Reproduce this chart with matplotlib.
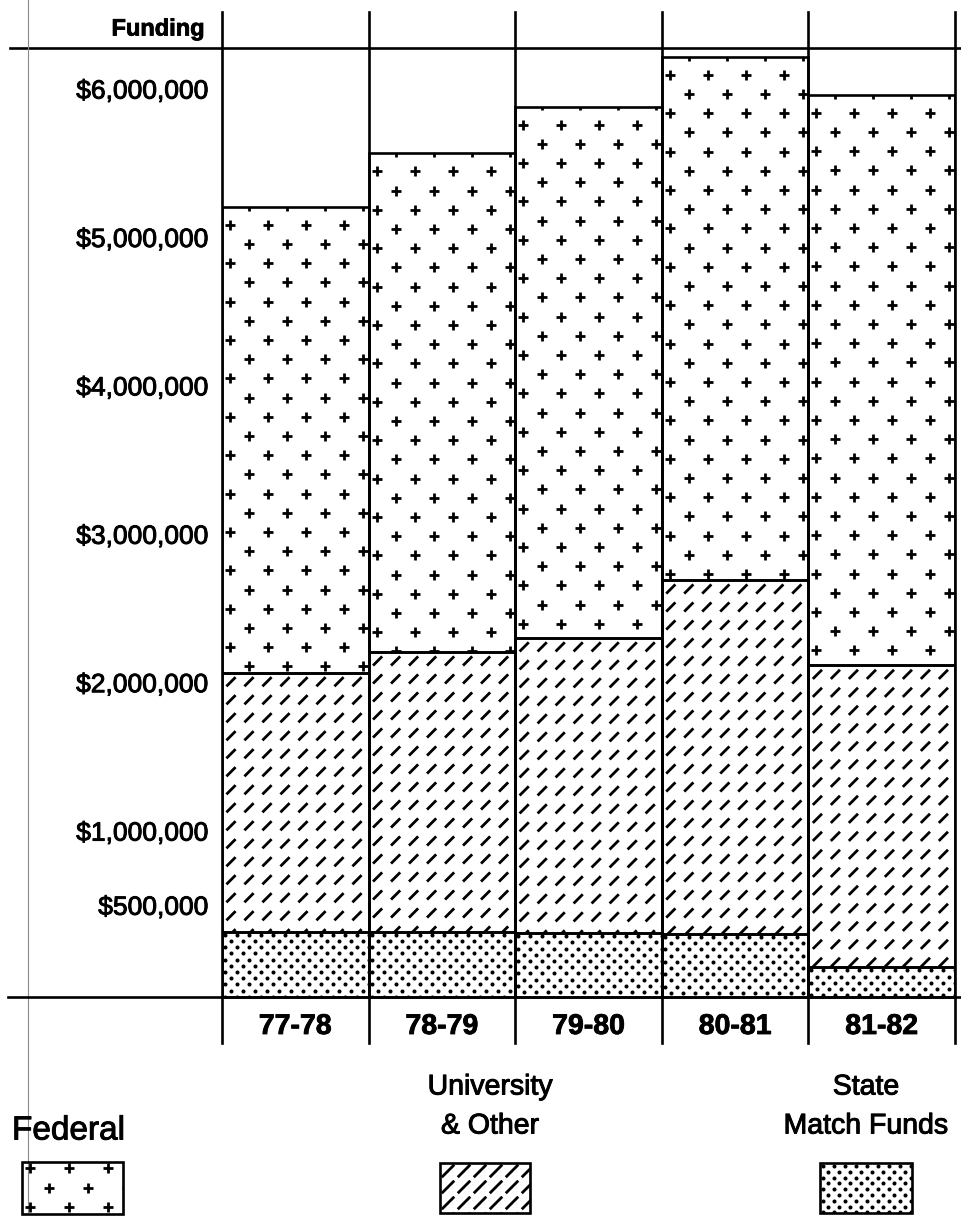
import numpy as np
import matplotlib
matplotlib.use("Agg")
import matplotlib.pyplot as plt
import matplotlib.transforms as mtransforms
import matplotlib.patheffects as pe
from matplotlib.path import Path
from matplotlib.patches import Rectangle

# ---- data -------------------------------------------------------------
years = ["77-78", "78-79", "79-80", "80-81", "81-82"]
state_match = [440000, 440000, 430000, 425000, 200000]
university_other = [1745000, 1885000, 1990000, 2385000, 2035000]
federal = [3140000, 3360000, 3580000, 3525000, 3845000]

tick_values = [500000, 1000000, 2000000, 3000000, 4000000, 5000000, 6000000]
tick_labels = ["$500,000", "$1,000,000", "$2,000,000", "$3,000,000",
               "$4,000,000", "$5,000,000", "$6,000,000"]
legend_labels = ["Federal", "University\n& Other", "State\nMatch Funds"]

# ---- page geometry (pixels) ------------------------------------------
W, H, DPI = 962, 1216, 100
FONT = "Liberation Sans"
plt.rcParams["font.family"] = [FONT, "DejaVu Sans"]

fig = plt.figure(figsize=(W / DPI, H / DPI), dpi=DPI)
fig.patch.set_facecolor("white")

AX_L, AX_R, AX_T, AX_B = 222, 955, 12, 1043
BASE_PX = 997          # pixel row of the $0 baseline
PX_PER_M = 148.4       # pixels per one million dollars

# slightly heavier type, like a printed page
REG = [pe.withStroke(linewidth=0.7, foreground="black")]
BOLD = [pe.withStroke(linewidth=0.6, foreground="black")]

# overlay in pixel coordinates for frame lines, titles and legend
ov = fig.add_axes([0, 0, 1, 1], zorder=1)
ov.set_xlim(0, W)
ov.set_ylim(H, 0)
ov.axis("off")

ax = fig.add_axes([AX_L / W, (H - AX_B) / H, (AX_R - AX_L) / W, (AX_B - AX_T) / H],
                  zorder=2)
ax.patch.set_alpha(0)
ymin = -(AX_B - BASE_PX) / PX_PER_M * 1e6
ymax = (BASE_PX - AX_T) / PX_PER_M * 1e6
ax.set_xlim(-0.5, len(years) - 0.5)
ax.set_ylim(ymin, ymax)
ax.set_xticks([])
ax.set_yticks([])
for sp in ax.spines.values():
    sp.set_visible(False)

ux = (len(years)) / (AX_R - AX_L)          # data x per pixel
uy = (ymax - ymin) / (AX_B - AX_T)         # data y per pixel

LW = 1.9
SLASH = Path([(-1, -1), (1, 1)], [Path.MOVETO, Path.LINETO])


def lattice(w, h, step_x, step_y, x_start, y_start, shift):
    """Staggered lattice of points (pixels from a box's left/top edge)."""
    xs, ys = [], []
    r = -int(np.ceil(y_start / step_y)) - 1
    while True:
        yy = y_start + r * step_y
        if yy > h + step_y:
            break
        off = shift if (r % 2) else 0.0
        cols = np.arange(x_start + off - 2 * step_x, w + step_x, step_x)
        xs.extend(cols)
        ys.extend([yy] * len(cols))
        r += 1
    return np.array(xs), np.array(ys)


STYLES = {
    "federal": dict(lat=(38, 19.2, 8, 18, 19), s=7.6 ** 2, lw=2.0),
    "university": dict(lat=(18, 18, 9, 9, 0), s=6.6 ** 2, lw=2.0),
    "state": dict(lat=(12, 6.2, 3, 3, 6), s=2.9 ** 2, lw=0),
}


def fill_texture(axis, patch, kind, left, top, w_px, h_px, to_data, lat=None,
                 s=None):
    st = STYLES[kind]
    sx, sy, x0, y0, sh = lat if lat is not None else st["lat"]
    px, py = lattice(w_px, h_px, sx, sy, x0, y0, sh)
    dx, dy = to_data(left, top, px, py)
    size = s if s is not None else st["s"]
    if kind == "state":
        sc = axis.scatter(dx, dy, s=size, marker="o", c="black", linewidths=0,
                          zorder=3)
    elif kind == "federal":
        sc = axis.scatter(dx, dy, s=size, marker="+", c="black",
                          linewidths=st["lw"], zorder=3)
    else:
        sc = axis.scatter(dx, dy, s=size, marker=SLASH, facecolors="none",
                          edgecolors="black", linewidths=st["lw"], zorder=3)
    sc.set_clip_path(patch)


def main_to_data(left, top, px, py):
    return left + px * ux, top - py * uy


x = np.arange(len(years))
segments = [("state", state_match), ("university", university_other),
            ("federal", federal)]
bottom = np.zeros(len(years))
for kind, vals in segments:
    vals = np.asarray(vals, dtype=float)
    bars = ax.bar(x, vals, width=1.0, bottom=bottom, color="white",
                  edgecolor="none", zorder=1)
    for i, patch in enumerate(bars.patches):
        top_val = bottom[i] + vals[i]
        fill_texture(ax, patch, kind, x[i] - 0.5, top_val,
                     1.0 / ux, vals[i] / uy, main_to_data)
    ax.bar(x, vals, width=1.0, bottom=bottom, fill=False, edgecolor="black",
           linewidth=LW, zorder=4)
    bottom = bottom + vals

# column separators running the full height
for xv in np.arange(-0.5, len(years), 1.0):
    ax.axvline(xv, color="black", lw=LW, zorder=5, clip_on=False)

# baseline at $0, extended to the left margin
base_tr = mtransforms.blended_transform_factory(fig.transFigure, ax.transData)
ax.plot([8 / W, 1.0], [0, 0], transform=base_tr, color="black", lw=LW,
        clip_on=False, zorder=5)

# dollar labels on the value axis
lab_tr = (mtransforms.blended_transform_factory(ax.transAxes, ax.transData)
          + mtransforms.ScaledTranslation(-14 / DPI, 15 / DPI, fig.dpi_scale_trans))
for v, t in zip(tick_values, tick_labels):
    ax.text(0, v, t, transform=lab_tr, ha="right", va="center", fontsize=19,
            clip_on=False, path_effects=REG)

# fiscal-year labels under each column
cat_tr = ax.transData + mtransforms.ScaledTranslation(0, -30 / DPI,
                                                      fig.dpi_scale_trans)
for i, yr in enumerate(years):
    ax.text(x[i], 0, yr, transform=cat_tr, ha="center", va="center",
            fontsize=20.5, fontweight="bold", clip_on=False, path_effects=BOLD)

# ---- frame lines and headings on the page -----------------------------
ov.plot([10, W], [48, 48], color="black", lw=LW)
ov.plot([28, 28], [0, 1214], color="#8a8a8a", lw=0.8)
ov.text(205, 29, "Funding", ha="right", va="center", fontsize=17,
        fontweight="bold", path_effects=BOLD)

# ---- legend -----------------------------------------------------------
ov.text(12, 1131, legend_labels[0], ha="left", va="center", fontsize=24,
        path_effects=REG)
ov.text(490, 1107, legend_labels[1], ha="center", va="center", fontsize=20.5,
        linespacing=1.65, path_effects=REG)
ov.text(866, 1107, legend_labels[2], ha="center", va="center", fontsize=20.5,
        linespacing=1.65, path_effects=REG)


def ov_to_data(left, top, px, py):
    return left + px, top + py


legend_boxes = [("federal", 22, 1162, 101, 52, (39, 19.5, 8, 6, 19.5), None),
                ("university", 440, 1163, 90, 50, (16, 16, 8, 8, 0), 9.0 ** 2),
                ("state", 820, 1163, 92, 50, (11, 5.8, 3, 3, 5.5), None)]
for kind, lx, ly, lw_, lh, lat, s in legend_boxes:
    bg = Rectangle((lx, ly), lw_, lh, facecolor="white", edgecolor="none",
                   zorder=1)
    ov.add_patch(bg)
    fill_texture(ov, bg, kind, lx, ly, lw_, lh, ov_to_data, lat=lat, s=s)
    ov.add_patch(Rectangle((lx, ly), lw_, lh, fill=False, edgecolor="black",
                           linewidth=LW, zorder=4))

fig.savefig("out.png", dpi=DPI, facecolor="white")
